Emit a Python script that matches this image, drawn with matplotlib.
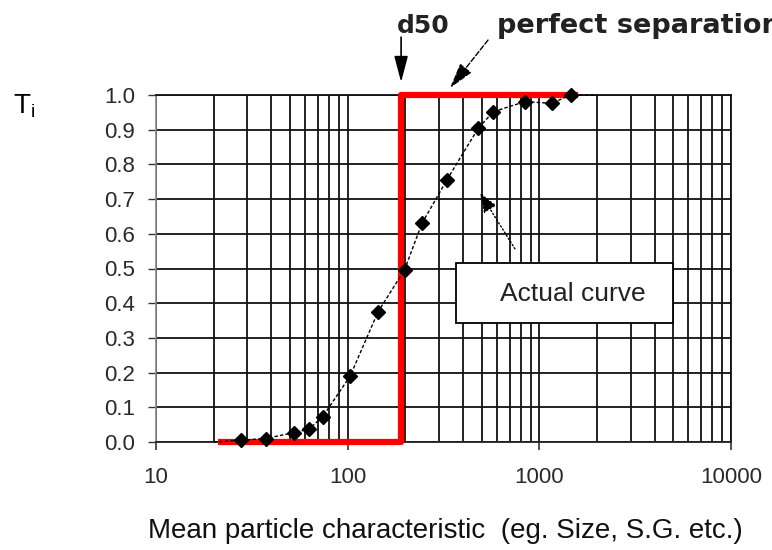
import matplotlib
matplotlib.use('Agg')
import matplotlib.pyplot as plt
from matplotlib import font_manager
from matplotlib.patches import Rectangle
from matplotlib.ticker import LogLocator, FixedLocator, NullFormatter, FixedFormatter

names = {f.name for f in font_manager.fontManager.ttflist}
if 'Liberation Sans Narrow' in names:
    TICK_FONT, TICK_SIZE = 'Liberation Sans Narrow', 18
else:
    TICK_FONT, TICK_SIZE = 'Liberation Sans', 16

# ---------------- data ----------------
size_x = [20, 27.6, 37.3, 52.4, 62.7, 74.1, 103, 144, 198, 244, 329,
          481, 576, 843, 1158, 1462, 2000]
actual_t = [0.0, 0.005, 0.01, 0.027, 0.037, 0.073, 0.19, 0.375, 0.496, 0.63,
            0.755, 0.905, 0.952, 0.981, 0.976, 1.0, 1.0]
perfect_x = [21, 190, 190, 1600]
perfect_t = [0.0, 0.0, 1.0, 1.0]
d50 = 190
x_ticks = [10, 100, 1000, 10000]
x_tick_labels = ['10', '100', '1000', '10000']
y_ticks = [0.0, 0.1, 0.2, 0.3, 0.4, 0.5, 0.6, 0.7, 0.8, 0.9, 1.0]
y_tick_labels = ['0.0', '0.1', '0.2', '0.3', '0.4', '0.5', '0.6', '0.7', '0.8', '0.9', '1.0']

W, H = 772, 550
fig = plt.figure(figsize=(W / 100, H / 100), dpi=100)
L, R, T, B = 156, 731, 95, 442
ax = fig.add_axes([L / W, 1 - B / H, (R - L) / W, (B - T) / H])

ax.set_xscale('log')
ax.set_xlim(10, 10000)
ax.set_ylim(0, 1)

ax.xaxis.set_major_locator(FixedLocator(x_ticks))
ax.xaxis.set_major_formatter(FixedFormatter(x_tick_labels))
ax.xaxis.set_minor_locator(LogLocator(base=10, subs=range(2, 10)))
ax.xaxis.set_minor_formatter(NullFormatter())
ax.yaxis.set_major_locator(FixedLocator(y_ticks))
ax.yaxis.set_major_formatter(FixedFormatter(y_tick_labels))

ax.set_axisbelow(True)
grid_kw = dict(color='#111111', linewidth=1.3)
ax.grid(which='both', axis='x', **grid_kw)
ax.grid(which='major', axis='y', **grid_kw)

for side in ['top', 'right']:
    ax.spines[side].set_color('#111111')
    ax.spines[side].set_linewidth(1.3)
ax.spines['bottom'].set_color('#222222')
ax.spines['bottom'].set_linewidth(1.3)
ax.spines['left'].set_color('#888888')
ax.spines['left'].set_linewidth(1.2)

ax.tick_params(axis='x', which='major', direction='out', length=6, width=1.2,
               color='#333333', pad=12, labelsize=TICK_SIZE, labelcolor='#2a2a2a')
ax.tick_params(axis='x', which='minor', length=0)
ax.tick_params(axis='y', which='major', direction='out', length=6, width=1.0,
               color='#333333', pad=9, labelsize=TICK_SIZE, labelcolor='#2a2a2a')
for lab in ax.get_xticklabels() + ax.get_yticklabels():
    lab.set_fontfamily(TICK_FONT)

# perfect separation (red)
ax.plot(perfect_x, perfect_t, color='#ff0000', linewidth=4.5,
        solid_joinstyle='round', solid_capstyle='butt', clip_on=False, zorder=4)

# actual curve
ax.plot(size_x, actual_t, color='black', linewidth=1.0, linestyle=(0, (2.5, 1.5)),
        marker='D', markersize=7, markevery=slice(1, len(size_x) - 1),
        markerfacecolor='black', markeredgecolor='black', clip_on=False, zorder=5)

# Actual curve label box
ax.add_patch(Rectangle((0.522, 0.343), 0.377, 0.173, transform=ax.transAxes,
                       facecolor='white', edgecolor='black', linewidth=1.3, zorder=3))
ax.text(0.725, 0.4265, 'Actual curve', transform=ax.transAxes, ha='center', va='center',
        fontsize=19, family='Liberation Sans', color='#222222', zorder=4)
ax.annotate('', xy=(490, 0.718), xycoords='data', xytext=(35, -56),
            textcoords='offset pixels',
            arrowprops=dict(arrowstyle='-|>,head_length=1.2,head_width=0.45',
                            color='black', lw=1.0, linestyle=':', shrinkA=0, shrinkB=0),
            annotation_clip=False, zorder=6)

# d50 arrow & label
ax.annotate('', xy=(d50, 1.037), xycoords='data', xytext=(0, 45),
            textcoords='offset pixels',
            arrowprops=dict(arrowstyle='-|>,head_length=1.6,head_width=0.42',
                            color='black', lw=1.2, shrinkA=0, shrinkB=0),
            annotation_clip=False)
fig.text(397 / W, 1 - 33 / H, 'd50', ha='left', va='baseline', fontsize=18,
         fontweight='bold', family='DejaVu Sans', color='#222222')

# perfect separation arrow & label
ax.annotate('', xy=(342, 1.02), xycoords='data', xytext=(38, 48),
            textcoords='offset pixels',
            arrowprops=dict(arrowstyle='-|>,head_length=1.6,head_width=0.45',
                            color='black', lw=1.0, linestyle='--', shrinkA=0, shrinkB=0),
            annotation_clip=False)
fig.text(497 / W, 1 - 33 / H, 'perfect separation', ha='left', va='baseline', fontsize=19.5,
         fontweight='bold', family='DejaVu Sans', color='#222222')

# axis labels
plt.rcParams['mathtext.default'] = 'regular'
fig.text(13 / W, 1 - 113 / H, 'T$_i$', ha='left', va='baseline', fontsize=20,
         family='Liberation Sans', color='black')
fig.text((L + R) / 2 / W + 2 / W, 1 - 538 / H,
         'Mean particle characteristic  (eg. Size, S.G. etc.)',
         ha='center', va='baseline', fontsize=20, family='Liberation Sans', color='#111111')

fig.savefig('out.png', dpi=100)
